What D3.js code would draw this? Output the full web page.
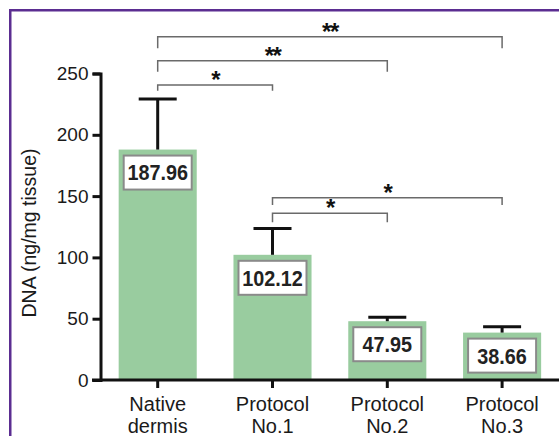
<!DOCTYPE html>
<html>
<head>
<meta charset="utf-8">
<script src="https://cdn.jsdelivr.net/npm/d3@7"></script>
<style>
  html, body { margin: 0; padding: 0; background: #fff; }
  svg { display: block; font-family: "Liberation Sans", Arial, Helvetica, sans-serif; }
</style>
</head>
<body>
<svg id="chart" width="559" height="436"></svg>
<script>
// ---- data ----
const categories = ["Native dermis", "Protocol No.1", "Protocol No.2", "Protocol No.3"];
const values = [187.96, 102.12, 47.95, 38.66];
const errors = [41.2, 21.5, 3.2, 4.8];
const valueLabels = ["187.96", "102.12", "47.95", "38.66"];
const yTicks = [0, 50, 100, 150, 200, 250];
const yLabel = "DNA (ng/mg tissue)";
// significance brackets: from index, to index, label, bar level (data units), leg bottom (data units)
const brFrom = [0, 0, 0, 1, 1];
const brTo = [3, 2, 1, 3, 2];
const brLabel = ["**", "**", "*", "*", "*"];
const brLevel = [280, 260.4, 240.6, 148.7, 136];
const brDrop = [270.5, 251.5, 236, 142.7, 128.6];

// ---- layout ----
const svg = d3.select("#chart");
const x = d3.scaleBand().domain(categories).range([100.3, 559.5]).paddingInner(0.32).paddingOuter(0.16);
const y = d3.scaleLinear().domain([0, 250]).range([380, 73.5]);
const cx = c => x(c) + x.bandwidth() / 2;

// purple frame
svg.append("rect").attr("x", 10.25).attr("y", 10.25).attr("width", 600).attr("height", 500)
  .attr("fill", "none").attr("stroke", "#5b2d91").attr("stroke-width", 2.5);

// bars
svg.append("g").selectAll("rect").data(categories).join("rect")
  .attr("x", d => x(d)).attr("width", x.bandwidth())
  .attr("y", (d, i) => y(values[i])).attr("height", (d, i) => y(0) - y(values[i]))
  .attr("fill", "#99cc9f");

// error bars
const eb = svg.append("g").attr("stroke", "#111").attr("stroke-width", 3).attr("fill", "none");
categories.forEach((c, i) => {
  eb.append("line").attr("x1", cx(c)).attr("x2", cx(c)).attr("y1", y(values[i])).attr("y2", y(values[i] + errors[i]));
  eb.append("line").attr("x1", cx(c) - 19).attr("x2", cx(c) + 19).attr("y1", y(values[i] + errors[i])).attr("y2", y(values[i] + errors[i]));
});

// value label boxes
categories.forEach((c, i) => {
  const top = y(values[i]) + 6;
  svg.append("rect").attr("x", cx(c) - 34).attr("y", top).attr("width", 68).attr("height", 34)
    .attr("fill", "#fff").attr("stroke", "#8a8a8a").attr("stroke-width", 2);
  svg.append("text").attr("transform", `translate(${cx(c)},${top + 17}) scale(0.9,1)`).attr("dy", "0.36em")
    .attr("text-anchor", "middle").attr("font-size", 22).attr("font-weight", "bold").attr("fill", "#222")
    .text(valueLabels[i]);
});

// y axis
const yAxis = svg.append("g").attr("transform", "translate(100.5,0)")
  .call(d3.axisLeft(y).tickValues(yTicks).tickSize(8).tickPadding(4));
yAxis.select(".domain").attr("stroke", "#111").attr("stroke-width", 3);
yAxis.selectAll(".tick line").attr("stroke", "#111").attr("stroke-width", 3);
yAxis.selectAll(".tick text").attr("font-size", 19).attr("fill", "#1a1a1a").attr("font-family", "Liberation Sans, Arial, sans-serif");

// x axis
const xAxis = svg.append("g").attr("transform", "translate(0,380)")
  .call(d3.axisBottom(x).tickSize(8).tickFormat(""));
xAxis.select(".domain").remove();
xAxis.selectAll(".tick line").attr("stroke", "#111").attr("stroke-width", 3);
svg.append("line").attr("x1", 92).attr("x2", 559).attr("y1", 380).attr("y2", 380)
  .attr("stroke", "#111").attr("stroke-width", 3);
categories.forEach(c => {
  const sp = c.indexOf(" ");
  const lines = [c.slice(0, sp), c.slice(sp + 1)];
  const t = svg.append("text").attr("text-anchor", "middle").attr("font-size", 20).attr("fill", "#1a1a1a");
  lines.forEach((l, k) => t.append("tspan").attr("x", cx(c)).attr("y", 411 + k * 21.5).text(l));
});

// y label
svg.append("text").attr("transform", "translate(29,233) rotate(-90)")
  .attr("text-anchor", "middle").attr("dy", "0.35em").attr("font-size", 19.5).attr("fill", "#1a1a1a")
  .text(yLabel);

// brackets
const bg = svg.append("g");
brFrom.forEach((f, i) => {
  const x1 = cx(categories[f]), x2 = cx(categories[brTo[i]]);
  const yl = y(brLevel[i]), yd = y(brDrop[i]);
  bg.append("path").attr("d", `M${x1},${yd}V${yl}H${x2}V${yd}`)
    .attr("fill", "none").attr("stroke", "#6a6a6a").attr("stroke-width", 1.5);
  bg.append("text").attr("x", (x1 + x2) / 2).attr("y", yl + 3)
    .attr("text-anchor", "middle").attr("font-size", 24).attr("font-weight", "bold").attr("fill", "#111").attr("letter-spacing", "-1.5")
    .text(brLabel[i]);
});
</script>
</body>
</html>
